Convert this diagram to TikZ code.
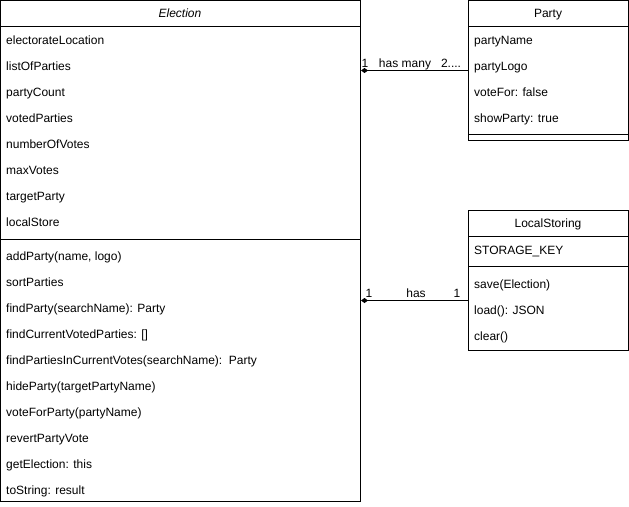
\documentclass[tikz,border=0pt]{standalone}
\usepackage{fontspec}
\setmainfont{Liberation Sans}
\usetikzlibrary{arrows.meta}

\tikzset{
    % Class boxes - plain black frames
    class box/.style={draw, line width=1pt, anchor=north west, inner sep=0pt},
    class line/.style={line width=1pt},
    % Text styles
    class name/.style={font=\fontsize{12}{14}\selectfont, text height=8.6pt, text depth=0pt, inner sep=0pt},
    member/.style={font=\fontsize{12}{14}\selectfont, anchor=west, text height=8.6pt, text depth=0pt, inner sep=0pt},
    role label/.style={font=\fontsize{12}{14}\selectfont, text height=8.6pt, text depth=0pt, inner sep=0pt},
    % Composition connector - filled diamond at the owner
    compose/.style={line width=1pt, -{Diamond[length=7pt, width=5pt]}},
}

\begin{document}
\begin{tikzpicture}[x=1pt, y=-1pt]
    \useasboundingbox (0,0) rectangle (629,506);

    % Election class
    \node[class box, minimum width=360pt, minimum height=501pt] (election) at (0,0) {};
    \draw[class line] (0,26) -- (360,26);
    \draw[class line] (0,239) -- (360,239);
    \node[class name, font=\fontsize{12}{14}\selectfont\itshape] (electionname) at (180,13) {Election};
    \foreach \name [count=\i from 0] in {electorateLocation, listOfParties, partyCount, votedParties,
            numberOfVotes, maxVotes, targetParty, localStore}
        \node[member] (eattr\i) at (6,40+26*\i) {\name};
    \foreach \name [count=\i from 0] in {addParty(name{,} logo), sortParties, findParty(searchName): Party,
            findCurrentVotedParties: [], findPartiesInCurrentVotes(searchName):\ \ Party,
            hideParty(targetPartyName), voteForParty(partyName), revertPartyVote,
            getElection: this, toString: result}
        \node[member] (emeth\i) at (6,256+26*\i) {\name};

    % Party class
    \node[class box, minimum width=160pt, minimum height=140pt] (party) at (468,0) {};
    \draw[class line] (468,26) -- (628,26);
    \draw[class line] (468,134) -- (628,134);
    \node[class name] (partyname) at (548,13) {Party};
    \foreach \name [count=\i from 0] in {partyName, partyLogo, voteFor: false, showParty: true}
        \node[member] (pattr\i) at (474,40+26*\i) {\name};

    % LocalStoring class
    \node[class box, minimum width=160pt, minimum height=140pt] (storing) at (468,210) {};
    \draw[class line] (468,236) -- (628,236);
    \draw[class line] (468,266) -- (628,266);
    \node[class name] (storingname) at (548,223) {LocalStoring};
    \node[member] (skey) at (474,250) {STORAGE\_KEY};
    \foreach \name [count=\i from 0] in {save(Election), load(): JSON, clear()}
        \node[member] (smeth\i) at (474,284+26*\i) {\name};

    % has many
    \draw[compose] (party.west) -- (party.west -| election.east);
    \node[role label] (hmone) at (365,63) {1};
    \node[role label] (hmlabel) at (405,63) {has many};
    \node[role label] (hmmany) at (451,63) {2....};

    % has
    \draw[compose] ([yshift=-20pt]storing.west) -- ([yshift=-20pt]storing.west -| election.east);
    \node[role label] (hasone) at (369,293) {1};
    \node[role label] (haslabel) at (416,293) {has};
    \node[role label] (hasother) at (457,293) {1};
\end{tikzpicture}
\end{document}
